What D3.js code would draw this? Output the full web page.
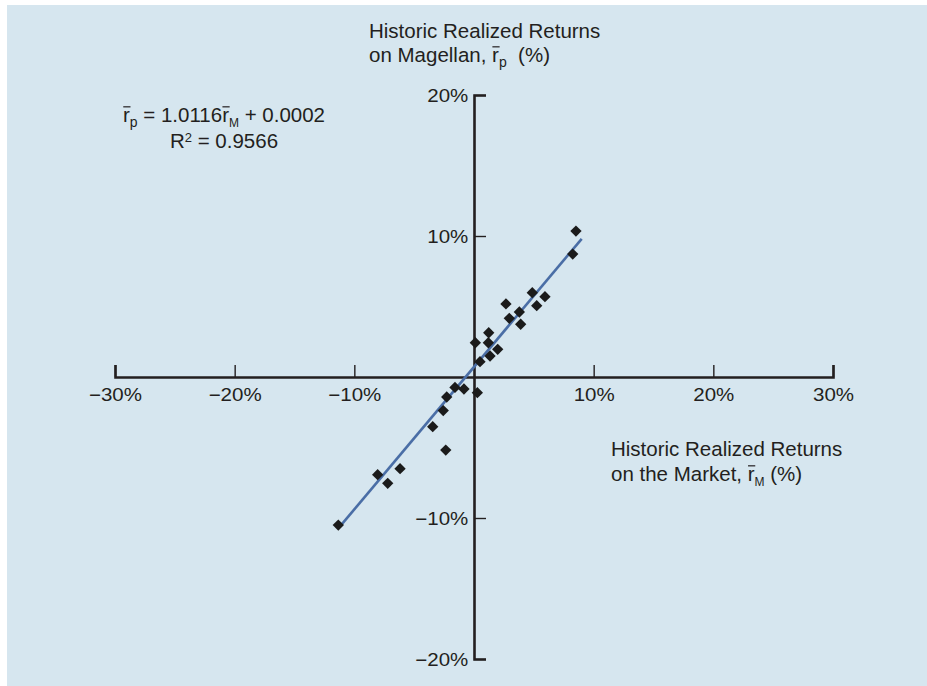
<!DOCTYPE html>
<html><head><meta charset="utf-8">
<script src="https://cdn.jsdelivr.net/npm/d3@7"></script>
<style>
html,body{margin:0;padding:0;background:#fff;}
svg{display:block;}
text{font-family:"Liberation Sans",Arial,Helvetica,sans-serif;fill:#231f20;}
</style>
</head><body>
<svg id="chart" width="927" height="686"></svg>
<script>
// Historic realized returns (%) — market (x) vs Magellan (y)
const marketReturns   = [8.52, 8.25, 4.87, 5.93, 5.24, 2.67, 2.95, 3.79, 3.90, 1.23, 1.20, 0.11, 1.98, 1.34, 0.50, 0.28, -0.84, -1.59, -2.28, -2.57, -3.45, -2.36, -6.18, -8.05, -7.21, -11.34];
const magellanReturns = [10.35, 8.72, 5.98, 5.70, 5.06, 5.18, 4.16, 4.61, 3.74, 3.14, 2.43, 2.43, 1.96, 1.49, 1.09, -1.11, -0.85, -0.74, -1.42, -2.38, -3.52, -5.18, -6.50, -6.93, -7.54, -10.50];
// Fitted regression line end points (as drawn)
const fitX = [-11.2, 9.0];
const fitY = [-10.6, 9.8];
const xTicks = [-30, -20, -10, 10, 20, 30];
const yTicks = [-20, -10, 10, 20];

const svg = d3.select("#chart");
const ink = "#231f20";

svg.append("rect").attr("x", 7).attr("y", 5).attr("width", 920).attr("height", 681).attr("fill", "#d6e6ef");

const x = d3.scaleLinear().domain([-30, 30]).range([115, 833]);
const y = d3.scaleLinear().domain([-20, 20]).range([659, 95]);

const fmt = d => (d < 0 ? "\u2212" : "") + Math.abs(d) + "%";

// X axis (through y = 0)
const xAxis = d3.axisBottom(x).tickValues(xTicks).tickFormat(fmt)
  .tickSizeInner(-12).tickSizeOuter(-12).tickPadding(11);
const gx = svg.append("g").attr("transform", `translate(0,${y(0)})`).call(xAxis);
gx.select(".domain").attr("stroke", ink).attr("stroke-width", 2.6).attr("fill", "none");
gx.selectAll(".tick line").attr("stroke", ink).attr("stroke-width", 1.4);
gx.selectAll(".tick text").attr("font-size", 18).attr("fill", ink)
  .attr("transform", "scale(1.14,1)")
  .attr("font-family", "Liberation Sans, Arial, sans-serif");

// Y axis (through x = 0)
const yAxis = d3.axisLeft(y).tickValues(yTicks).tickFormat(fmt)
  .tickSizeInner(-12).tickSizeOuter(-12).tickPadding(5);
const gy = svg.append("g").attr("transform", `translate(${x(0)},0)`).call(yAxis);
gy.select(".domain").attr("stroke", ink).attr("stroke-width", 2.6).attr("fill", "none");
gy.selectAll(".tick line").attr("stroke", ink).attr("stroke-width", 1.4);
gy.selectAll(".tick text").attr("font-size", 18).attr("fill", ink).attr("dy", "0.38em")
  .attr("transform", "scale(1.14,1)")
  .attr("font-family", "Liberation Sans, Arial, sans-serif");

// Regression line
const line = d3.line().x(d => x(d[0])).y(d => y(d[1]));
svg.append("path").datum(d3.zip(fitX, fitY)).attr("d", line)
  .attr("stroke", "#4a6ea6").attr("stroke-width", 2.6).attr("fill", "none");

// Points (diamonds)
const sym = d3.symbol().type(d3.symbolSquare).size(64);
svg.append("g").selectAll("path").data(d3.zip(marketReturns, magellanReturns)).join("path")
  .attr("d", sym)
  .attr("transform", d => `translate(${x(d[0])},${y(d[1])}) rotate(45)`)
  .attr("fill", "#1b1b1b");

// Rich text helper
function richLine(px, py, anchor, fs, parts) {
  const t = svg.append("text").attr("x", px).attr("y", py).attr("text-anchor", anchor)
    .attr("font-size", fs).style("white-space", "pre");
  let shift = 0, idx = 0;
  const bars = [];
  parts.forEach(p => {
    const target = p.sub ? 4.5 : p.sup ? -6 : 0;
    const ts = t.append("tspan").text(p.t).attr("dy", target - shift);
    if (p.sub || p.sup) ts.attr("font-size", p.size || 13);
    shift = target;
    if (p.bar) bars.push(idx);
    idx += p.t.length;
  });
  const node = t.node();
  bars.forEach(i => {
    const e = node.getExtentOfChar(i);
    svg.append("line")
      .attr("x1", e.x + 0.3).attr("x2", e.x + e.width + 0.7)
      .attr("y1", py - fs * 0.74).attr("y2", py - fs * 0.74)
      .attr("stroke", ink).attr("stroke-width", 1.2);
  });
}

// Top (vertical axis) title
richLine(369, 38, "start", 20.5, [{t: "Historic Realized Returns"}]);
richLine(369, 62, "start", 20.5, [{t: "on Magellan, "}, {t: "r", bar: true}, {t: "p", sub: true, size: 14}, {t: "\u00a0\u00a0(%)"}]);

// Right (horizontal axis) title
richLine(611, 456, "start", 20.5, [{t: "Historic Realized Returns"}]);
richLine(611, 481, "start", 20.5, [{t: "on the Market, "}, {t: "r", bar: true}, {t: "M", sub: true, size: 12}, {t: "\u00a0(%)"}]);

// Equation
richLine(224, 122, "middle", 20.5, [{t: "r", bar: true}, {t: "p", sub: true, size: 14}, {t: " = 1.0116"}, {t: "r", bar: true}, {t: "M", sub: true, size: 12}, {t: " + 0.0002"}]);
richLine(224, 148, "middle", 20.5, [{t: "R"}, {t: "2", sup: true, size: 13}, {t: " = 0.9566"}]);
</script>
</body></html>
